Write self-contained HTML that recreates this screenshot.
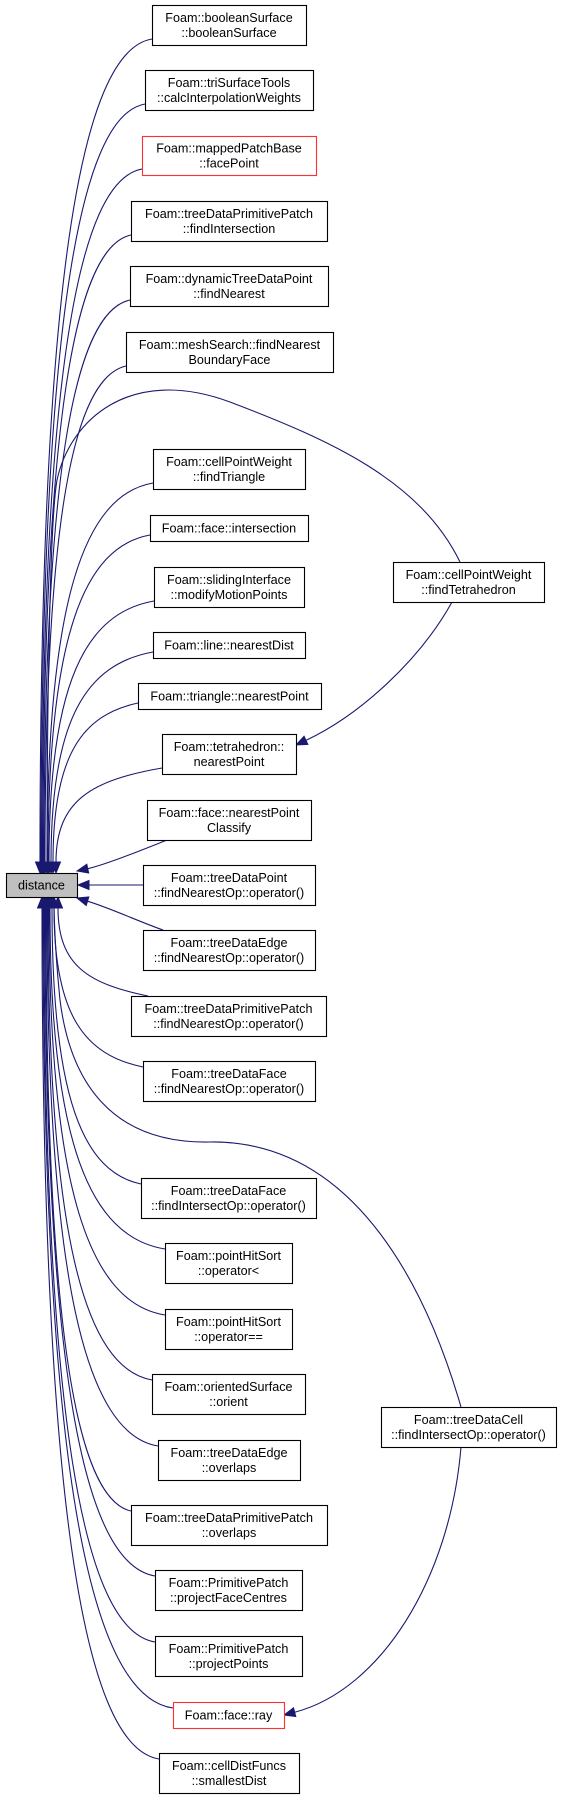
<!DOCTYPE html>
<html><head><meta charset="utf-8">
<style>
html,body{margin:0;padding:0;background:#fff;}
svg{display:block;}
text{font-family:"Liberation Sans",Arial,sans-serif;font-size:12.6px;fill:#000;}
</style></head>
<body>
<svg id="g" width="563" height="1799" viewBox="0 0 563 1799" xmlns="http://www.w3.org/2000/svg"></svg>
<script>
// node data: label lines, box left, top, right, bottom, red outline flag
const nodeLabels = [
 ["Foam::booleanSurface","::booleanSurface"],
 ["Foam::triSurfaceTools","::calcInterpolationWeights"],
 ["Foam::mappedPatchBase","::facePoint"],
 ["Foam::treeDataPrimitivePatch","::findIntersection"],
 ["Foam::dynamicTreeDataPoint","::findNearest"],
 ["Foam::meshSearch::findNearest","BoundaryFace"],
 ["Foam::cellPointWeight","::findTriangle"],
 ["Foam::face::intersection"],
 ["Foam::slidingInterface","::modifyMotionPoints"],
 ["Foam::line::nearestDist"],
 ["Foam::triangle::nearestPoint"],
 ["Foam::tetrahedron::","nearestPoint"],
 ["Foam::face::nearestPoint","Classify"],
 ["Foam::treeDataPoint","::findNearestOp::operator()"],
 ["Foam::treeDataEdge","::findNearestOp::operator()"],
 ["Foam::treeDataPrimitivePatch","::findNearestOp::operator()"],
 ["Foam::treeDataFace","::findNearestOp::operator()"],
 ["Foam::treeDataFace","::findIntersectOp::operator()"],
 ["Foam::pointHitSort","::operator<"],
 ["Foam::pointHitSort","::operator=="],
 ["Foam::orientedSurface","::orient"],
 ["Foam::treeDataEdge","::overlaps"],
 ["Foam::treeDataPrimitivePatch","::overlaps"],
 ["Foam::PrimitivePatch","::projectFaceCentres"],
 ["Foam::PrimitivePatch","::projectPoints"],
 ["Foam::face::ray"],
 ["Foam::cellDistFuncs","::smallestDist"],
 ["Foam::cellPointWeight","::findTetrahedron"],
 ["Foam::treeDataCell","::findIntersectOp::operator()"]
];
const nodeLeft  = [152,145,142,131,130,126,153,150,154,153,138,162,147,143,143,131,143,141,165,165,152,158,131,155,155,173,159,393,381];
const nodeTop   = [5,70,136,201,266,332,449,515,567,632,683,734,800,865,930,996,1061,1178,1243,1309,1374,1440,1505,1570,1636,1702,1753,562,1407];
const nodeRight = [306,313,316,327,328,333,305,308,304,305,321,296,311,315,315,326,315,316,292,292,305,300,327,302,302,284,299,544,556];
const nodeBottom= [45,110,175,241,306,372,489,541,607,658,709,774,840,905,970,1036,1101,1218,1283,1349,1414,1480,1545,1610,1676,1728,1793,602,1447];
const nodeRed   = [2,25];
// where each caller's edge lands on "distance"
const endX = [40,41,42,43,44,45,47,48,49,51,53,56,72,82,78,58,54,52,50,49,48,47,46,45,44,43,42];
const D = {l:6,t:873,r:77,b:897};
const svg = document.getElementById('g');
const NS='http://www.w3.org/2000/svg';
const EC='#191970';
function mk(tag,attrs,parent){const e=document.createElementNS(NS,tag);for(const k in attrs)e.setAttribute(k,attrs[k]);(parent||svg).appendChild(e);return e;}
const edges=mk('g',{});


function arrow(x0,y0,c1x,c1y,c2x,c2y,ex,ey,name){
  const dx=ex-c2x, dy=ey-c2y, L=Math.hypot(dx,dy)||1, ux=dx/L, uy=dy/L;
  const bx=ex-ux*11, by=ey-uy*11;
  const p=mk('path',{d:`M${x0},${y0} C${c1x},${c1y} ${c2x},${c2y} ${bx},${by}`,fill:'none',stroke:EC,'stroke-width':1.1},edges);
  
  
  const h=mk('polygon',{points:`${ex},${ey} ${bx-uy*4.5},${by+ux*4.5} ${bx+uy*4.5},${by-ux*4.5}`,fill:EC,stroke:EC},edges);
  
  
}
for(let i=0;i<27;i++){
  const ex=endX[i];
  const name='edge-'+i;
  if(nodeBottom[i]<D.t){
    if(i===12){arrow(nodeLeft[i]+20,nodeBottom[i],130,855,100,866,D.r,D.t-2,name);continue;}
    const sx=nodeLeft[i], sy=nodeBottom[i]-6;
    arrow(sx,sy,ex+(sx-ex)*0.35,sy+12,ex,sy+(D.t-sy)*0.3,ex,D.t,name);
  } else if(i===13){
    arrow(nodeLeft[i],885,120,885,100,885,D.r+1,885,name);
  } else if(i===14){
    arrow(nodeLeft[i]+20,nodeTop[i],140,922,110,908,D.r,D.b+1,name);
  } else {
    const sx=nodeLeft[i], sy=nodeTop[i]+(i===15?0:6);
    const s2 = i===15? nodeLeft[i]+17 : sx;
    arrow(s2,sy,ex+(s2-ex)*0.35,sy-12,ex,sy-(sy-D.b)*0.3,ex,D.b,name);
  }
}
// findTetrahedron -> distance (over the top)
arrow(460,562,420,480,330,430,230,400,'edge-findTetrahedron-distance-a');
edges.lastChild.remove();edges.lastChild.setAttribute('d','M460,562 C420,480 330,440 230,402 C130,365 70,420 57,480 C50,520 47,700 47,873');
arrow(47,700,47,800,47,850,47,873,'edge-findTetrahedron-arrow');
edges.lastChild.previousSibling.remove();
// findTetrahedron -> tetrahedron::nearestPoint
arrow(452,602,420,660,360,715,296,745,'edge-findTetrahedron-tetrahedron');
// treeDataCell -> distance (under)
const p2=mk('path',{d:'M461,1407 C430,1300 360,1140 210,1142 C110,1144 70,1080 60,1000 C55,950 54,920 54,898',fill:'none',stroke:EC,'stroke-width':1.1},edges);


arrow(461,1447,450,1580,380,1690,284,1715,'edge-treeDataCell-ray');

function box(l,t,r,b,lines,red,name,fill){
  const g=mk('g',{});
  
  
  mk('rect',{x:l+0.5,y:t+0.5,width:r-l,height:b-t,fill:fill||'#fff',stroke:red?'#ff3030':'#000','stroke-width':1.1},g);
  const cx=(l+r)/2, cy=(t+b)/2;
  lines.forEach((s,k)=>{
    const y = lines.length===1? cy+4.5 : cy-3+k*15;
    const tx=mk('text',{x:cx,y:y,'text-anchor':'middle'},g);
    tx.textContent=s;
  });
}
box(D.l,D.t,D.r,D.b,['distance'],false,'distance-node','#bfbfbf');
for(let i=0;i<nodeLabels.length;i++){
  box(nodeLeft[i],nodeTop[i],nodeRight[i],nodeBottom[i],nodeLabels[i],nodeRed.includes(i),'node-'+nodeLabels[i].join('').replace(/[^A-Za-z]+/g,'-').toLowerCase());
}
</script>
</body></html>
